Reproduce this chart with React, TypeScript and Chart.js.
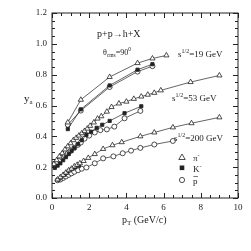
import React, { useEffect, useRef } from "react";
import { Chart, registerables } from "chart.js";
Chart.register(...registerables);

const xTickValues = [0, 2, 4, 6, 8, 10];
const yTickValues = [0, 0.2, 0.4, 0.6, 0.8, 1.0, 1.2];

const pi19X = [0.85, 1.55, 3.1, 4.6, 5.4, 6.15];
const pi19Y = [0.49, 0.637, 0.785, 0.875, 0.905, 0.925];
const k19X = [0.85, 1.55, 3.1, 4.6, 5.4];
const k19Y = [0.447, 0.575, 0.73, 0.832, 0.868];
const pbar19X = [0.85, 1.55, 3.1, 4.6, 5.4];
const pbar19Y = [0.475, 0.567, 0.72, 0.82, 0.855];

const pi53X = [0.1, 0.25, 0.4, 0.55, 0.7, 0.85, 1.0, 1.15, 1.3, 1.45, 1.6, 1.75, 1.9, 2.05, 2.25, 2.45, 2.65, 2.95, 3.2, 3.6, 4.0, 4.4, 4.8, 5.15, 5.5, 5.85, 7.45, 9.0];
const pi53Y = [0.22, 0.245, 0.27, 0.29, 0.315, 0.335, 0.355, 0.375, 0.39, 0.405, 0.42, 0.435, 0.45, 0.468, 0.49, 0.515, 0.53, 0.56, 0.59, 0.613, 0.625, 0.643, 0.658, 0.67, 0.682, 0.698, 0.752, 0.795];
const k53X = [0.15, 0.3, 0.45, 0.6, 0.75, 0.9, 1.05, 1.2, 1.4, 1.6, 1.85, 2.1, 2.4, 2.7, 3.1, 3.9, 4.8];
const k53Y = [0.195, 0.21, 0.225, 0.245, 0.265, 0.285, 0.305, 0.325, 0.35, 0.375, 0.41, 0.43, 0.455, 0.475, 0.5, 0.55, 0.595];
const pbar53X = [0.1, 0.25, 0.4, 0.55, 0.7, 0.85, 1.0, 1.2, 1.4, 1.55, 1.75, 2.0, 2.3, 2.6, 2.95, 3.35, 3.9, 4.75];
const pbar53Y = [0.22, 0.23, 0.245, 0.26, 0.275, 0.29, 0.305, 0.325, 0.345, 0.36, 0.385, 0.405, 0.425, 0.44, 0.445, 0.463, 0.517, 0.565];

const pi200X = [0.3, 0.45, 0.6, 0.75, 0.9, 1.05, 1.2, 1.35, 1.5, 1.7, 1.95, 2.3, 2.75, 3.25, 3.75, 4.75, 5.5, 6.5, 7.5, 9.0];
const pi200Y = [0.12, 0.135, 0.15, 0.165, 0.18, 0.19, 0.205, 0.215, 0.225, 0.24, 0.26, 0.285, 0.318, 0.342, 0.362, 0.4, 0.425, 0.458, 0.485, 0.523];
const k200X = [0.35, 0.5, 0.65, 0.8, 0.95, 1.1, 1.25, 1.45];
const k200Y = [0.12, 0.135, 0.15, 0.165, 0.18, 0.19, 0.2, 0.21];
const pbar200X = [0.3, 0.45, 0.6, 0.75, 0.9, 1.05, 1.2, 1.4, 1.6, 1.85, 2.3, 2.75, 3.3, 3.8, 4.25, 4.75, 5.5, 6.5];
const pbar200Y = [0.115, 0.12, 0.13, 0.14, 0.15, 0.16, 0.17, 0.18, 0.19, 0.198, 0.225, 0.257, 0.27, 0.29, 0.307, 0.325, 0.347, 0.37];

const SERIF = "'Liberation Serif', 'DejaVu Serif', serif";
const INK = "#222";

function pts(xs: number[], ys: number[]) {
  return xs.map((x, i) => ({ x, y: ys[i] }));
}

function ds(xs: number[], ys: number[], kind: "pi" | "k" | "pbar") {
  const style =
    kind === "pi"
      ? { pointStyle: "triangle", pointRadius: 3, pointBackgroundColor: "#fff" }
      : kind === "k"
      ? { pointStyle: "rect", pointRadius: 2.3, pointBackgroundColor: INK }
      : { pointStyle: "circle", pointRadius: 2.5, pointBackgroundColor: "#fff" };
  return {
    data: pts(xs, ys),
    showLine: true,
    borderColor: INK,
    borderWidth: 0.7,
    pointBorderColor: INK,
    pointBorderWidth: 0.8,
    ...style,
  };
}

function drawSup(ctx: CanvasRenderingContext2D, x: number, y: number, parts: [string, number, number][]) {
  // parts: text, fontSize, yOffset
  let cx = x;
  for (const [t, size, dy] of parts) {
    ctx.font = `${size}px ${SERIF}`;
    ctx.fillText(t, cx, y + dy);
    cx += ctx.measureText(t).width;
  }
}

const framePlugin = {
  id: "frame",
  afterDraw(chart: any) {
    const ctx = chart.ctx as CanvasRenderingContext2D;
    const { left, right, top, bottom } = chart.chartArea;
    const xs = chart.scales.x;
    const ys = chart.scales.y;
    ctx.save();
    ctx.strokeStyle = INK;
    ctx.lineWidth = 1;
    ctx.strokeRect(left, top, right - left, bottom - top);
    ctx.beginPath();
    for (let v = 0; v <= 10.001; v += 0.5) {
      const px = Math.round(xs.getPixelForValue(v)) + 0.5;
      const major = Math.abs(v / 2 - Math.round(v / 2)) < 1e-6;
      const L = major ? 5 : 3;
      ctx.moveTo(px, bottom);
      ctx.lineTo(px, bottom - L);
      ctx.moveTo(px, top);
      ctx.lineTo(px, top + L);
    }
    for (let v = 0; v <= 1.2001; v += 0.05) {
      const py = Math.round(ys.getPixelForValue(v)) + 0.5;
      const major = Math.abs(v / 0.2 - Math.round(v / 0.2)) < 1e-6;
      const L = major ? 5 : 3;
      ctx.moveTo(left, py);
      ctx.lineTo(left + L, py);
      ctx.moveTo(right, py);
      ctx.lineTo(right - L, py);
    }
    ctx.stroke();

    ctx.fillStyle = INK;
    ctx.textBaseline = "alphabetic";
    ctx.textAlign = "left";
    drawSup(ctx, 97, 37, [["p+p\u2192h+X", 10, 0]]);
    drawSup(ctx, 103, 55, [["\u03B8", 8, 0], ["cms", 5.5, 2], ["=90", 8, 0], ["0", 5.5, -4]]);
    drawSup(ctx, 178, 57, [["s", 9, 0], ["1/2", 6, -4], ["=19 GeV", 9, 0]]);
    drawSup(ctx, 172, 101, [["s", 9, 0], ["1/2", 6, -4], ["=53 GeV", 9, 0]]);
    drawSup(ctx, 174, 141, [["s", 9, 0], ["1/2", 6, -4], ["=200 GeV", 9, 0]]);

    // legend
    ctx.lineWidth = 0.8;
    ctx.beginPath();
    ctx.moveTo(182, 154);
    ctx.lineTo(185.2, 159.5);
    ctx.lineTo(178.8, 159.5);
    ctx.closePath();
    ctx.stroke();
    ctx.fillRect(179.7, 165.5, 4.6, 4.6);
    ctx.beginPath();
    ctx.arc(182, 180, 2.6, 0, Math.PI * 2);
    ctx.stroke();
    drawSup(ctx, 193, 161, [["\u03C0", 9, 0], ["-", 6, -4]]);
    drawSup(ctx, 193, 172, [["K", 9, 0], ["-", 6, -4]]);
    drawSup(ctx, 193, 184, [["p", 9, 0]]);
    ctx.beginPath();
    ctx.moveTo(193.3, 176.5);
    ctx.lineTo(198, 176.5);
    ctx.lineWidth = 0.6;
    ctx.stroke();

    // axis titles
    drawSup(ctx, 24, 102, [["y", 11, 0], ["a", 7, 2]]);
    drawSup(ctx, 122, 223, [["p", 10, 0], ["T", 7, 2], [" (GeV/c)", 10, 0]]);
    ctx.restore();
  },
};

export default function App() {
  const ref = useRef<HTMLCanvasElement | null>(null);
  useEffect(() => {
    document.body.style.margin = "0";
    const canvas = ref.current!;
    const chart = new Chart(canvas, {
      type: "scatter",
      data: {
        datasets: [
          ds(pi19X, pi19Y, "pi"),
          ds(k19X, k19Y, "k"),
          ds(pbar19X, pbar19Y, "pbar"),
          ds(pi53X, pi53Y, "pi"),
          ds(k53X, k53Y, "k"),
          ds(pbar53X, pbar53Y, "pbar"),
          ds(pi200X, pi200Y, "pi"),
          ds(k200X, k200Y, "k"),
          ds(pbar200X, pbar200Y, "pbar"),
        ] as any,
      },
      options: {
        animation: false,
        responsive: false,
        maintainAspectRatio: false,
        devicePixelRatio: 1,
        layout: { padding: { top: 13, right: 13, left: 0, bottom: 0 } },
        plugins: { legend: { display: false }, tooltip: { enabled: false } },
        scales: {
          x: {
            type: "linear",
            min: 0,
            max: 10,
            grid: { display: false, drawTicks: false },
            border: { display: false },
            afterBuildTicks: (s: any) => {
              s.ticks = xTickValues.map((v) => ({ value: v }));
            },
            ticks: {
              padding: 4,
              color: INK,
              font: { family: SERIF, size: 9 },
              maxRotation: 0,
              callback: (v: any) => String(v),
            },
            afterFit: (s: any) => {
              s.height = 53;
            },
          },
          y: {
            type: "linear",
            min: 0,
            max: 1.2,
            grid: { display: false, drawTicks: false },
            border: { display: false },
            afterBuildTicks: (s: any) => {
              s.ticks = yTickValues.map((v) => ({ value: v }));
            },
            ticks: {
              padding: 5,
              color: INK,
              font: { family: SERIF, size: 9 },
              callback: (v: any) => Number(v).toFixed(1),
            },
            afterFit: (s: any) => {
              s.width = 52;
            },
          },
        },
      } as any,
      plugins: [framePlugin],
    });
    return () => chart.destroy();
  }, []);
  return <canvas ref={ref} width={251} height={251} style={{ display: "block" }} />;
}
